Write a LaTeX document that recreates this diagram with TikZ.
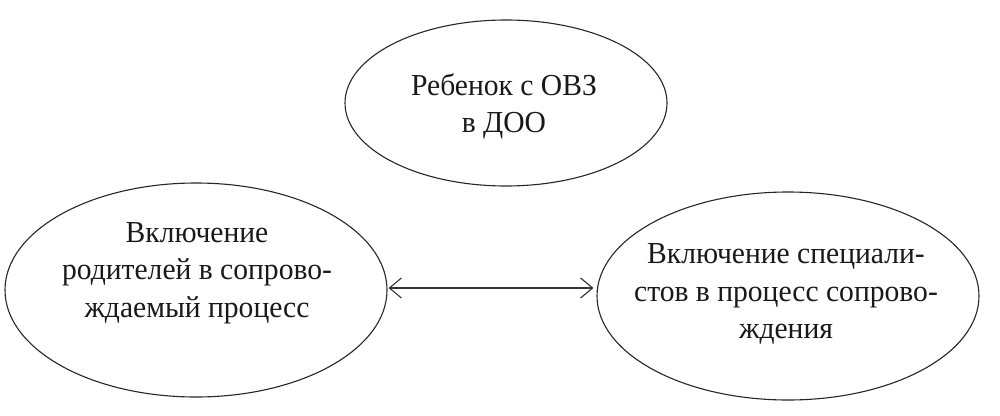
\documentclass[tikz,border=0pt]{standalone}
\usepackage{fontspec}
\setmainfont[FakeStretch=0.97]{Liberation Serif}
\usetikzlibrary{shapes.geometric,arrows.meta}
\tikzset{
  oval/.style={draw=black!85, line width=1.1pt, shape=ellipse, inner sep=0pt},
  lbl/.style={align=center, inner sep=0pt, font=\fontsize{30.5}{37.3}\selectfont, text=black!90},
  link/.style={draw=black!80, line width=1.1pt, {Straight Barb[length=12pt,width=20pt]}-{Straight Barb[length=12pt,width=20pt]}}
}
\begin{document}
\begin{tikzpicture}[x=1pt,y=-1pt]
\useasboundingbox (0,0) rectangle (1000,415);
\node[oval, minimum width=322pt, minimum height=166pt] (top) at (506,103) {};
\node[oval, minimum width=382pt, minimum height=214pt] (left) at (196,290) {};
\node[oval, minimum width=382pt, minimum height=208pt] (right) at (788,296) {};
\node[lbl] (ttop) at (504,106) {Ребенок с ОВЗ\\в ДОО};
\node[lbl] (tleft) at (197,273) {Включение\\родителей в сопрово-\\ждаемый процесс};
\node[lbl] (tright) at (786,294) {Включение специали-\\стов в процесс сопрово-\\ждения};
\draw[link, shorten <=1pt, shorten >=3pt] ([yshift=2pt]left.east) -- ([yshift=2pt]left.east -| right.west);
\end{tikzpicture}
\end{document}
